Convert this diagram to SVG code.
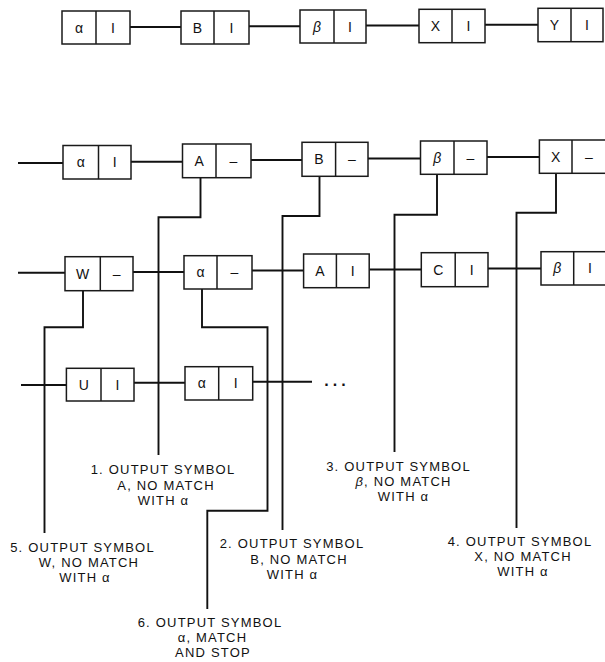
<svg xmlns="http://www.w3.org/2000/svg" width="605" height="662" viewBox="0 0 605 662">
<style>
.bx rect{fill:#fff;stroke:#1a1a1a;stroke-width:1.5}
.bx line{stroke:#1a1a1a;stroke-width:1.5}
.bx text{font-family:"Liberation Sans",Arial,sans-serif;font-size:14px;fill:#111;text-anchor:middle}
.gr{font-style:italic}
.conn path{fill:none;stroke:#111;stroke-width:1.9}
.lbl text{font-family:"Liberation Sans",Arial,sans-serif;font-size:13px;letter-spacing:1.2px;fill:#111;text-anchor:middle}
</style>
<rect width="605" height="662" fill="#fff"/>
<g id="connectors" class="conn">
<path d="M130 27H181"/>
<path d="M249 26.3H300"/>
<path d="M366 25.5H419"/>
<path d="M485 24.7H538"/>
<path d="M18 163H63"/>
<path d="M131 161.7H182.5"/>
<path d="M251 160H302"/>
<path d="M368 158.5H420.5"/>
<path d="M487 157H539.4"/>
<path d="M18 272.7H65"/>
<path d="M133 272H184"/>
<path d="M252 270.5H303.6"/>
<path d="M369.2 269.5H421.3"/>
<path d="M488 268.5H541"/>
<path d="M21 385H66.4"/>
<path d="M134 382.7H185"/>
<path d="M252.7 381.7H312"/>
<path d="M200.5 177.7V217.3H158.5V455"/>
<path d="M319.5 176.3V216H282.5V530"/>
<path d="M437 174.3V214.7H394.5V452"/>
<path d="M556 173.3V212.7H516.5V528"/>
<path d="M83 290.7V327.3H44.5V533"/>
<path d="M202 289V327.3H267.5V510.7H207.3V609"/>
</g>
<g id="dots" class="lbl"><text x="337" y="386" style="font-size:16px;font-weight:bold;letter-spacing:4px">...</text></g>
<g id="t1" class="bx"><rect x="62" y="11" width="68" height="33"/><line x1="96" y1="11" x2="96" y2="44"/><text x="79" y="32.5">α</text><text x="113" y="32.5">I</text></g>
<g id="t2" class="bx"><rect x="181" y="11" width="68" height="33"/><line x1="214" y1="11" x2="214" y2="44"/><text x="197.5" y="32.5">B</text><text x="231.5" y="32.5">I</text></g>
<g id="t3" class="bx"><rect x="300" y="10" width="66" height="33"/><line x1="334" y1="10" x2="334" y2="43"/><text x="317" y="31.5" class="gr">β</text><text x="350" y="31.5">I</text></g>
<g id="t4" class="bx"><rect x="419" y="9.3" width="66" height="33.4"/><line x1="452" y1="9.3" x2="452" y2="42.7"/><text x="435.5" y="31">X</text><text x="468.5" y="31">I</text></g>
<g id="t5" class="bx"><rect x="538" y="8.3" width="65" height="33.4"/><line x1="571" y1="8.3" x2="571" y2="41.7"/><text x="554.5" y="30">Y</text><text x="587" y="30">I</text></g>
<g id="r2a" class="bx"><rect x="63" y="145.5" width="68" height="33.5"/><line x1="98.5" y1="145.5" x2="98.5" y2="179"/><text x="80.75" y="167.2">α</text><text x="114.75" y="167.2">I</text></g>
<g id="r2b" class="bx"><rect x="182.5" y="144" width="68.5" height="33.7"/><line x1="216" y1="144" x2="216" y2="177.7"/><text x="199.25" y="165.8">A</text><text x="233.5" y="165.8">–</text></g>
<g id="r2c" class="bx"><rect x="302" y="142.3" width="66" height="34"/><line x1="335.6" y1="142.3" x2="335.6" y2="176.3"/><text x="318.8" y="164.3">B</text><text x="351.8" y="164.3">–</text></g>
<g id="r2d" class="bx"><rect x="420.5" y="141" width="66.5" height="33.3"/><line x1="454" y1="141" x2="454" y2="174.3"/><text x="437.25" y="162.7" class="gr">β</text><text x="470.5" y="162.7">–</text></g>
<g id="r2e" class="bx"><rect x="539.4" y="140" width="67" height="33.3"/><line x1="572" y1="140" x2="572" y2="173.3"/><text x="555.7" y="161.7">X</text><text x="589" y="161.7">–</text></g>
<g id="r3a" class="bx"><rect x="65" y="256.7" width="68" height="34"/><line x1="100.3" y1="256.7" x2="100.3" y2="290.7"/><text x="82.6" y="278.7">W</text><text x="116.6" y="278.7">–</text></g>
<g id="r3b" class="bx"><rect x="184" y="255.7" width="68" height="33.3"/><line x1="217" y1="255.7" x2="217" y2="289"/><text x="200.5" y="277.3">α</text><text x="234.5" y="277.3">–</text></g>
<g id="r3c" class="bx"><rect x="303.6" y="254" width="65.6" height="33.7"/><line x1="336.4" y1="254" x2="336.4" y2="287.7"/><text x="320" y="275.8">A</text><text x="352.8" y="275.8">I</text></g>
<g id="r3d" class="bx"><rect x="421.3" y="252.7" width="66.7" height="34"/><line x1="455.2" y1="252.7" x2="455.2" y2="286.7"/><text x="438.25" y="274.7">C</text><text x="471.6" y="274.7">I</text></g>
<g id="r3e" class="bx"><rect x="541" y="251.7" width="66" height="33.3"/><line x1="573.7" y1="251.7" x2="573.7" y2="285"/><text x="557.3" y="273.3" class="gr">β</text><text x="590" y="273.3">I</text></g>
<g id="r4a" class="bx"><rect x="66.4" y="368.3" width="67.6" height="32.7"/><line x1="101" y1="368.3" x2="101" y2="401"/><text x="83.7" y="389.7">U</text><text x="117.5" y="389.7">I</text></g>
<g id="r4b" class="bx"><rect x="185" y="366.7" width="67.7" height="33.3"/><line x1="218.7" y1="366.7" x2="218.7" y2="400"/><text x="201.85" y="388.3">α</text><text x="235.7" y="388.3">I</text></g>
<g id="label1" class="lbl"><text x="163" y="474">1. OUTPUT SYMBOL</text><text x="166" y="489.5">A, NO MATCH</text><text x="163.5" y="505">WITH α</text></g>
<g id="label2" class="lbl"><text x="292" y="548">2. OUTPUT SYMBOL</text><text x="299" y="563.5">B, NO MATCH</text><text x="292.5" y="579">WITH α</text></g>
<g id="label3" class="lbl"><text x="398.5" y="471">3. OUTPUT SYMBOL</text><text x="403.5" y="486"><tspan class="gr">β</tspan>, NO MATCH</text><text x="403.5" y="501">WITH α</text></g>
<g id="label4" class="lbl"><text x="520" y="546">4. OUTPUT SYMBOL</text><text x="523" y="561">X, NO MATCH</text><text x="523" y="576">WITH α</text></g>
<g id="label5" class="lbl"><text x="82.5" y="552">5. OUTPUT SYMBOL</text><text x="89" y="567">W, NO MATCH</text><text x="85" y="582">WITH α</text></g>
<g id="label6" class="lbl"><text x="210" y="627">6. OUTPUT SYMBOL</text><text x="212.5" y="642">α, MATCH</text><text x="213" y="656.5">AND STOP</text></g>
</svg>
